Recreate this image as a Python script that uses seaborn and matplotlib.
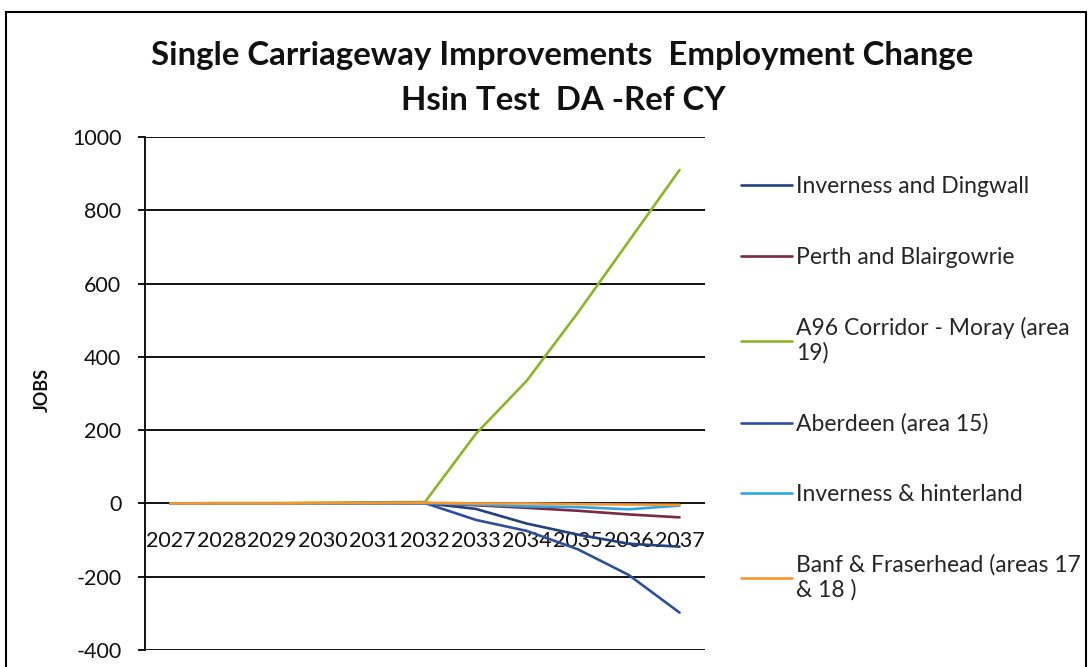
import pandas as pd
import matplotlib.pyplot as plt
import seaborn as sns
from matplotlib.patches import Rectangle

# Data
years = [2027, 2028, 2029, 2030, 2031, 2032, 2033, 2034, 2035, 2036, 2037]
inverness_dingwall = [0, 0, 0, 0, 1, 1, -15, -55, -85, -110, -118]
perth_blairgowrie = [0, 0, 0, 0, 1, 1, -5, -12, -20, -30, -38]
a96_moray = [0, 1, 1, 2, 3, 4, 190, 335, 520, 715, 910]
aberdeen = [0, 0, 0, 0, 1, 1, -45, -75, -125, -195, -298]
inverness_hinterland = [0, 0, 0, 0, 1, 1, -3, -8, -10, -16, -6]
banf_fraserhead = [0, 0, 0, 1, 1, 2, 0, 0, -2, -3, -4]

labels = [
    "Inverness and Dingwall",
    "Perth and Blairgowrie",
    "A96 Corridor - Moray (area\n19)",
    "Aberdeen (area 15)",
    "Inverness & hinterland",
    "Banf & Fraserhead (areas 17\n& 18 )",
]
series = [inverness_dingwall, perth_blairgowrie, a96_moray,
          aberdeen, inverness_hinterland, banf_fraserhead]
colors = ["#22427e", "#7a2846", "#8db526", "#2e4f9a", "#2fa6e2", "#f7962d"]

yticks = [-400, -200, 0, 200, 400, 600, 800, 1000]

# Long-form table for seaborn
df = pd.concat(
    [pd.DataFrame({"year": years, "jobs": vals, "area": lab})
     for lab, vals in zip(labels, series)],
    ignore_index=True,
)

sns.set_theme(style="white")
plt.rcParams["font.family"] = ["Lato", "DejaVu Sans"]
plt.rcParams["axes.unicode_minus"] = False

W, H = 1091, 667
fig = plt.figure(figsize=(W / 100, H / 100), dpi=100)
ax = fig.add_axes([145 / W, 17 / H, 560 / W, 513 / H])

sns.lineplot(data=df, x="year", y="jobs", hue="area", hue_order=labels,
             palette=dict(zip(labels, colors)), linewidth=1.9, sort=False, ax=ax)

ax.set_xlim(2026.5, 2037.5)
ax.set_ylim(-400, 1000)
ax.set_yticks(yticks)
ax.set_xticks(years)
ax.set_xticklabels([str(y) for y in years])
ax.set_xlabel("")
ax.set_ylabel("")

ax.grid(axis="y", color="black", linewidth=1.3)
ax.grid(axis="x", visible=False)
for s in ["top", "right"]:
    ax.spines[s].set_visible(False)
ax.spines["left"].set_color("black")
ax.spines["left"].set_linewidth(1.3)
ax.spines["bottom"].set_position(("data", 0))
ax.spines["bottom"].set_visible(False)
ax.tick_params(axis="y", left=True, length=5, width=1.3, color="black",
               labelsize=15.5, pad=12, labelcolor="#111111")
ax.tick_params(axis="x", length=0, labelsize=15.5, pad=20, labelcolor="#111111")

# Legend on the right
h, l = ax.get_legend_handles_labels()
ax.get_legend().remove()
fig.legend(h, l, loc="upper left", bbox_to_anchor=(723 / W, 1 - 158 / H),
           frameon=False, fontsize=16.5, handlelength=2.2, handletextpad=0.2,
           labelspacing=2.15, borderpad=0.3)

# Titles
fig.text(562 / W, 1 - 55 / H, "Single Carriageway Improvements  Employment Change",
         ha="center", va="center", fontsize=23.8, weight="bold", color="#111111")
fig.text(563 / W, 1 - 100 / H, "Hsin Test  DA -Ref CY",
         ha="center", va="center", fontsize=23.8, weight="bold", color="#111111")
fig.text(42 / W, 1 - 390 / H, "JOBS", rotation=90, ha="center", va="center",
         fontsize=13, weight="bold", color="#111111")

# Outer chart border
fig.add_artist(Rectangle((6 / W, -0.02), 1080 / W, 0.02 + 655 / H,
                         transform=fig.transFigure, fill=False,
                         edgecolor="black", linewidth=1.5))

fig.savefig("out.png", dpi=100)
plt.close()
